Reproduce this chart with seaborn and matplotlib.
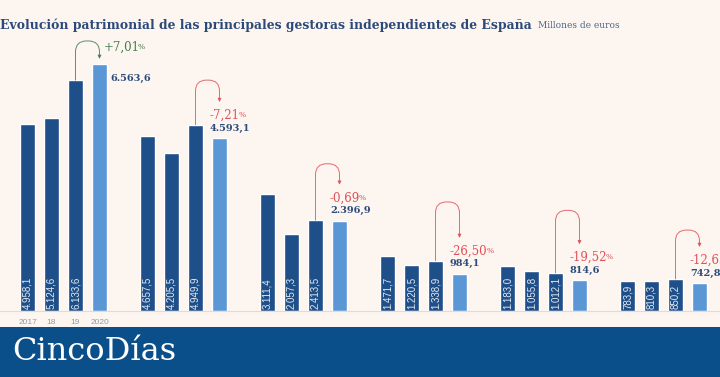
import numpy as np
import pandas as pd
import seaborn as sns
import matplotlib.pyplot as plt
from matplotlib.patches import Rectangle

# Millones de euros, seis gestoras (sin nombre en la imagen)
years = ["2017", "18", "19", "2020"]
v2017 = [4958.1, 4657.5, 3111.4, 1471.7, 1183.0, 783.9]
v2018 = [5124.6, 4205.5, 2057.3, 1220.5, 1055.8, 810.3]
v2019 = [6133.6, 4949.9, 2413.5, 1338.9, 1012.1, 850.2]
v2020 = [6563.6, 4593.1, 2396.9, 984.1, 814.6, 742.8]
changes = ["+7,01", "-7,21", "-0,69", "-26,50", "-19,52", "-12,63"]

bg = "#fdf5ef"
dark = "#1f4f88"
light = "#5b97d5"
navy_txt = "#2b4a7a"
red = "#e0505a"
green = "#3f7f4a"


def es(v):
    return f"{v:,.1f}".replace(",", "X").replace(".", ",").replace("X", ".")


rows = []
for g, vals in enumerate(zip(v2017, v2018, v2019, v2020)):
    for i, v in enumerate(vals):
        rows.append({"pos": 5 * g + i, "value": v, "year": years[i],
                     "kind": "now" if i == 3 else "prev"})
df = pd.DataFrame(rows)

sns.set_style("white")
plt.rcParams["font.family"] = ["DejaVu Serif"]

fig = plt.figure(figsize=(7.2, 3.77), dpi=100)
fig.patch.set_facecolor(bg)
ax = fig.add_axes([0, 66 / 377, 1, 271 / 377])
ax.set_facecolor(bg)

bw = 0.63
sns.barplot(data=df, x="pos", y="value", hue="kind", palette={"prev": dark, "now": light},
            native_scale=True, width=bw, dodge=False, legend=False, saturation=1, ax=ax)

ymax = 7200
ax.set_xlim(-1.146, 28.854)
ax.set_ylim(0, ymax)
ypp = ymax / 271  # data units per pixel
pt = 0.72         # points per pixel

for s in ["top", "left", "right"]:
    ax.spines[s].set_visible(False)
ax.spines["bottom"].set_color("#e6dad0")
ax.spines["bottom"].set_linewidth(0.8)
ax.set_yticks([])
ax.set_xticks(range(4))
ax.set_xticklabels(years, fontsize=6, color="#8d9cb0", family="Liberation Sans")
ax.tick_params(axis="x", length=0, pad=6)
ax.set_xlabel("")
ax.set_ylabel("")

# valores dentro de las barras (2017-2019)
for _, r in df[df["kind"] == "prev"].iterrows():
    ax.annotate(es(r["value"]), xy=(r["pos"], 0), xytext=(0, 1.5), textcoords="offset points",
                rotation=90, ha="center", va="bottom", fontsize=7, color="#e4ebf3",
                family="Liberation Sans")

rises = [18, 22, 21, 36, 34, 17]
for g in range(6):
    x3, x4 = 5 * g + 2, 5 * g + 3
    y3, y4 = v2019[g], v2020[g]
    col = green if changes[g].startswith("+") else red
    if g == 0:
        tip_px = y4 / ypp + 5
    else:
        tip_px = y4 / ypp + 36
    top_px = max(tip_px, y3 / ypp) + rises[g]
    armA = top_px - y3 / ypp
    armB = top_px - tip_px
    ax.annotate("", xy=(x4, tip_px * ypp), xytext=(x3, y3),
                arrowprops=dict(arrowstyle="-|>", color=col, lw=0.7, alpha=0.85,
                                shrinkA=0, shrinkB=0, mutation_scale=5,
                                connectionstyle=f"arc,angleA=90,angleB=90,armA={armA},armB={armB},rad=11"),
                annotation_clip=False)
    if g == 0:
        t = ax.annotate(changes[g], xy=(x4, tip_px * ypp), xytext=(4 * pt, 12 * pt),
                        textcoords="offset points", ha="left", va="center",
                        fontsize=8.5, color=col, annotation_clip=False)
        ax.annotate(es(y4), xy=(x4 + bw / 2, y4), xytext=(3 * pt, -15 * pt),
                    textcoords="offset points", ha="left", va="center",
                    fontsize=7, color=navy_txt, weight="bold")
    else:
        t = ax.annotate(changes[g], xy=(x4 - bw / 2, y4), xytext=(-2 * pt, 23 * pt),
                        textcoords="offset points", ha="left", va="center",
                        fontsize=8.5, color=col, annotation_clip=False)
        ax.annotate(es(y4), xy=(x4 - bw / 2, y4), xytext=(-2 * pt, 10 * pt),
                    textcoords="offset points", ha="left", va="center",
                    fontsize=7, color=navy_txt, weight="bold", annotation_clip=False)
    ax.annotate("%", xy=(1, 0), xycoords=t, xytext=(-1, 1.8), textcoords="offset points",
                ha="left", va="bottom", fontsize=5.5, color=col, annotation_clip=False)

fig.text(0.0, 1 - 25 / 377, "Evolución patrimonial de las principales gestoras independientes de España",
         ha="left", va="center", fontsize=8.9, weight="bold", color=navy_txt)
fig.text(538 / 720, 1 - 26 / 377, "Millones de euros", ha="left", va="center",
         fontsize=6.5, color="#4a6690")

fig.patches.append(Rectangle((0, 0), 1, 50 / 377, transform=fig.transFigure,
                             facecolor="#0b4f8a", edgecolor="none", zorder=0))
fig.text(12 / 720, 25 / 377, "CincoDías", ha="left", va="center", fontsize=23,
         color="white")

fig.savefig("out.png", dpi=100, facecolor=bg)
